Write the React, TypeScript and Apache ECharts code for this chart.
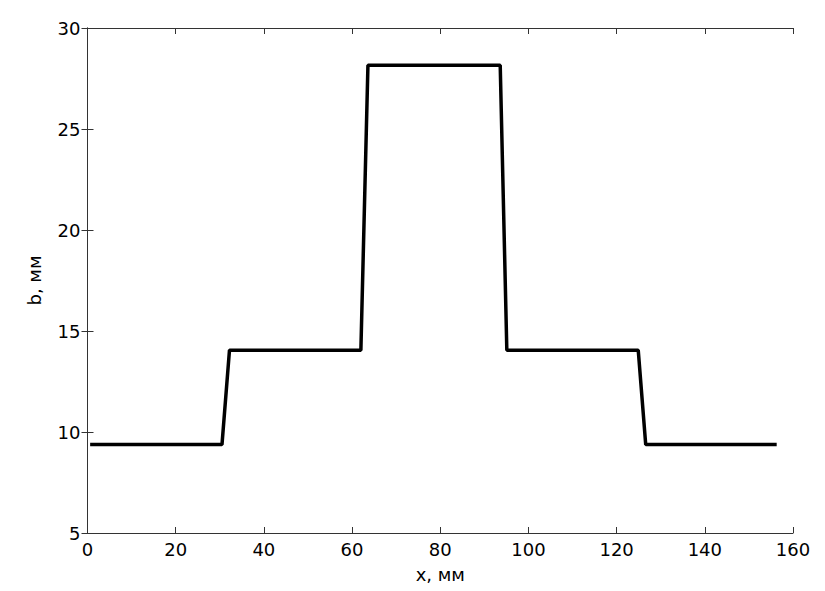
import React, { useEffect, useRef } from "react";
import * as echarts from "echarts";

const xValues = [0.6, 30.5, 32.2, 62.0, 63.6, 93.6, 95.1, 124.9, 126.6, 156.3];
const bValues = [9.38, 9.38, 14.05, 14.05, 28.15, 28.15, 14.05, 14.05, 9.38, 9.38];
const xTicks = [0, 20, 40, 60, 80, 100, 120, 140, 160];
const yTicks = [5, 10, 15, 20, 25, 30];

export default function App() {
  const ref = useRef<HTMLDivElement>(null);
  useEffect(() => {
    if (!ref.current) return;
    const chart = echarts.init(ref.current, undefined, { renderer: "svg" });
    const font = "DejaVu Sans, Arial, sans-serif";
    const axisLine = { show: true, lineStyle: { color: "#333", width: 1 } };
    const tick = { show: true, inside: true, length: 6, lineStyle: { color: "#333" } };
    chart.setOption({
      animation: false,
      backgroundColor: "#fff",
      grid: { left: 87.5, right: 32, top: 28, bottom: 58 },
      xAxis: [
        {
          type: "value", min: 0, max: 160, interval: 20, position: "bottom",
          name: "x, мм", nameLocation: "middle", nameGap: 32,
          nameTextStyle: { fontFamily: font, fontSize: 18, color: "#000" },
          axisLine, axisTick: tick, splitLine: { show: false },
          axisLabel: { fontFamily: font, fontSize: 18, color: "#000", margin: 7, formatter: (v: number) => (xTicks.includes(v) ? String(v) : "") },
        },
        {
          type: "value", min: 0, max: 160, interval: 20, position: "top",
          axisLine, axisTick: tick, splitLine: { show: false }, axisLabel: { show: false },
        },
      ],
      yAxis: [
        {
          type: "value", min: 5, max: 30, interval: 5, position: "left",
          name: "b, мм", nameLocation: "middle", nameGap: 44, nameRotate: 90,
          nameTextStyle: { fontFamily: font, fontSize: 18, color: "#000" },
          axisLine, axisTick: tick, splitLine: { show: false },
          axisLabel: { fontFamily: font, fontSize: 18, color: "#000", margin: 7, formatter: (v: number) => (yTicks.includes(v) ? String(v) : "") },
        },
        {
          type: "value", min: 5, max: 30, interval: 5, position: "right",
          axisLine, axisTick: tick, splitLine: { show: false }, axisLabel: { show: false },
        },
      ],
      series: [
        {
          type: "line",
          data: xValues.map((x, i) => [x, bValues[i]]),
          showSymbol: false,
          lineStyle: { color: "#000", width: 3.5 },
          itemStyle: { color: "#000" },
        },
      ],
    });
    return () => chart.dispose();
  }, []);
  return <div ref={ref} style={{ width: 825, height: 591, position: "absolute", left: 0, top: 0 }} />;
}
